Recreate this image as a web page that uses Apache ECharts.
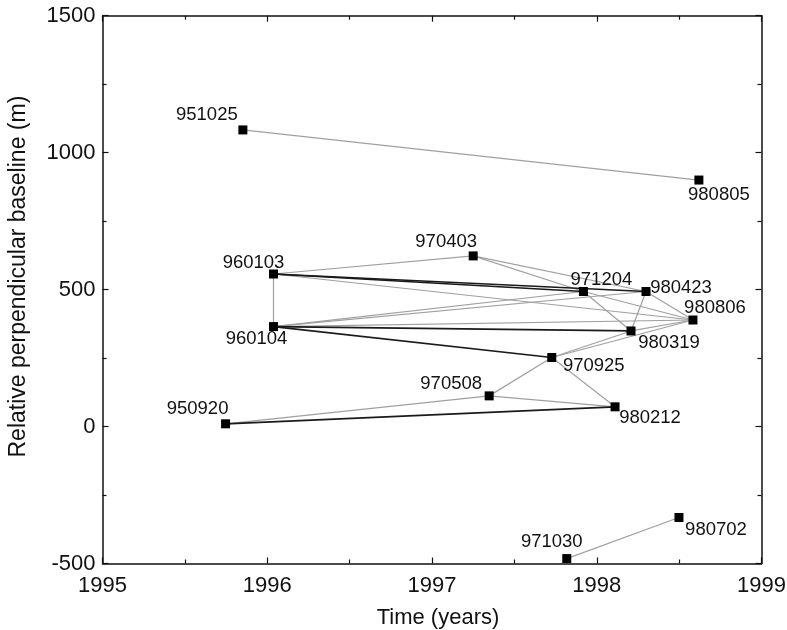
<!DOCTYPE html>
<html>
<head>
<meta charset="utf-8">
<script src="https://cdn.jsdelivr.net/npm/echarts@6/dist/echarts.min.js"></script>
<style>
html,body{margin:0;padding:0;background:#fff;}
#chart{width:787px;height:630px;}
</style>
</head>
<body>
<div id="chart"></div>
<script>
// ---- data ----
const names = ['951025','980805','970403','960103','960104','971204','980423','980806','980319','970925','970508','950920','980212','971030','980702'];
const years = [1995.852,1998.620,1997.250,1996.038,1996.038,1997.919,1998.299,1998.584,1998.208,1997.727,1997.347,1995.747,1998.111,1997.818,1998.499];
const baselines = [1083,900,623,557,365,493,493,389,349,252,112,10,72,-482,-332];
const grayEdges = [
  ['951025','980805'],['971030','980702'],['950920','970508'],['970508','980212'],
  ['970508','970925'],['970925','980212'],['960103','960104'],['960103','970403'],
  ['960103','980806'],['960104','971204'],['960104','980423'],['960104','980806'],
  ['970403','971204'],['970403','980423'],['971204','980319'],['971204','980806'],
  ['980423','980319'],['980423','980806'],['980319','980806'],['970925','980319'],
  ['970925','980806']
];
const blackEdges = [
  ['950920','980212'],['960104','970925'],['960104','980319'],['960103','971204'],['960103','980423']
];
const xTicks = [1995,1996,1997,1998,1999];
const yTicks = [-500,0,500,1000,1500];

// ---- label placement (offset of label centre from marker centre, px) ----
const labelOffsets = {
  '951025':[-36,-15],'980805':[20,15],'970403':[-27,-14],'960103':[-20,-11],
  '960104':[-17,12],'971204':[18,-12],'980423':[35,-4],'980806':[22,-12],
  '980319':[38,12],'970925':[42,8],'970508':[-38,-12],'950920':[-28,-15],
  '980212':[35,11],'971030':[-15,-17],'980702':[37,12]
};

const idx = n => names.indexOf(n);
const coord = n => [years[idx(n)], baselines[idx(n)]];
const toLines = edges => edges.map(e => ({coords:[coord(e[0]), coord(e[1])]}));

const FONT = 'Liberation Sans, Arial, Helvetica, sans-serif';
const axisBase = {
  type:'value',
  axisLine:{show:true,onZero:false,lineStyle:{color:'#111',width:1.5}},
  axisTick:{show:true,inside:true,length:6,lineStyle:{color:'#111',width:1.2}},
  minorTick:{show:true,splitNumber:2,length:4,lineStyle:{color:'#111',width:1.2}},
  splitLine:{show:false}
};

const chart = echarts.init(document.getElementById('chart'));
chart.setOption({
  animation:false,
  backgroundColor:'#fff',
  grid:{left:102.5,top:15.7,width:659,height:547.8,containLabel:false,outerBoundsMode:'none'},
  xAxis:[
    Object.assign({}, axisBase, {
      position:'bottom', min:xTicks[0], max:xTicks[xTicks.length-1], interval:1,
      axisLabel:{color:'#111',fontSize:22,fontFamily:FONT,margin:11,formatter:v=>String(v)},
      name:'Time (years)', nameLocation:'middle', nameGap:43,
      nameTextStyle:{color:'#111',fontSize:22,fontFamily:FONT,padding:[0,0,0,12]}
    }),
    Object.assign({}, axisBase, {
      position:'top', min:xTicks[0], max:xTicks[xTicks.length-1], interval:1,
      axisLabel:{show:false}
    })
  ],
  yAxis:[
    Object.assign({}, axisBase, {
      position:'left', min:yTicks[0], max:yTicks[yTicks.length-1], interval:500,
      axisLabel:{color:'#111',fontSize:22,fontFamily:FONT,margin:7,formatter:v=>String(v)},
      name:'Relative perpendicular baseline (m)', nameLocation:'middle', nameGap:72,
      nameTextStyle:{color:'#111',fontSize:23,fontFamily:FONT,padding:[0,0,0,26]}
    }),
    Object.assign({}, axisBase, {
      position:'right', min:yTicks[0], max:yTicks[yTicks.length-1], interval:500,
      axisLabel:{show:false}
    })
  ],
  series:[
    {
      type:'lines', coordinateSystem:'cartesian2d', xAxisIndex:0, yAxisIndex:0,
      lineStyle:{color:'#a0a0a0',width:1.2,opacity:1}, silent:true,
      data:toLines(grayEdges), z:2
    },
    {
      type:'lines', coordinateSystem:'cartesian2d', xAxisIndex:0, yAxisIndex:0,
      lineStyle:{color:'#1a1a1a',width:1.7,opacity:1}, silent:true,
      data:toLines(blackEdges), z:3
    },
    {
      type:'scatter', xAxisIndex:0, yAxisIndex:0, symbol:'rect', symbolSize:9, z:5,
      itemStyle:{color:'#000',opacity:1},
      data:names.map((n,i)=>({
        value:[years[i], baselines[i]], name:n,
        label:{show:true, position:'inside', offset:labelOffsets[n], align:'center', verticalAlign:'middle',
          formatter:n, color:'#111', fontSize:18.5, fontFamily:FONT}
      }))
    }
  ]
});
</script>
</body>
</html>
